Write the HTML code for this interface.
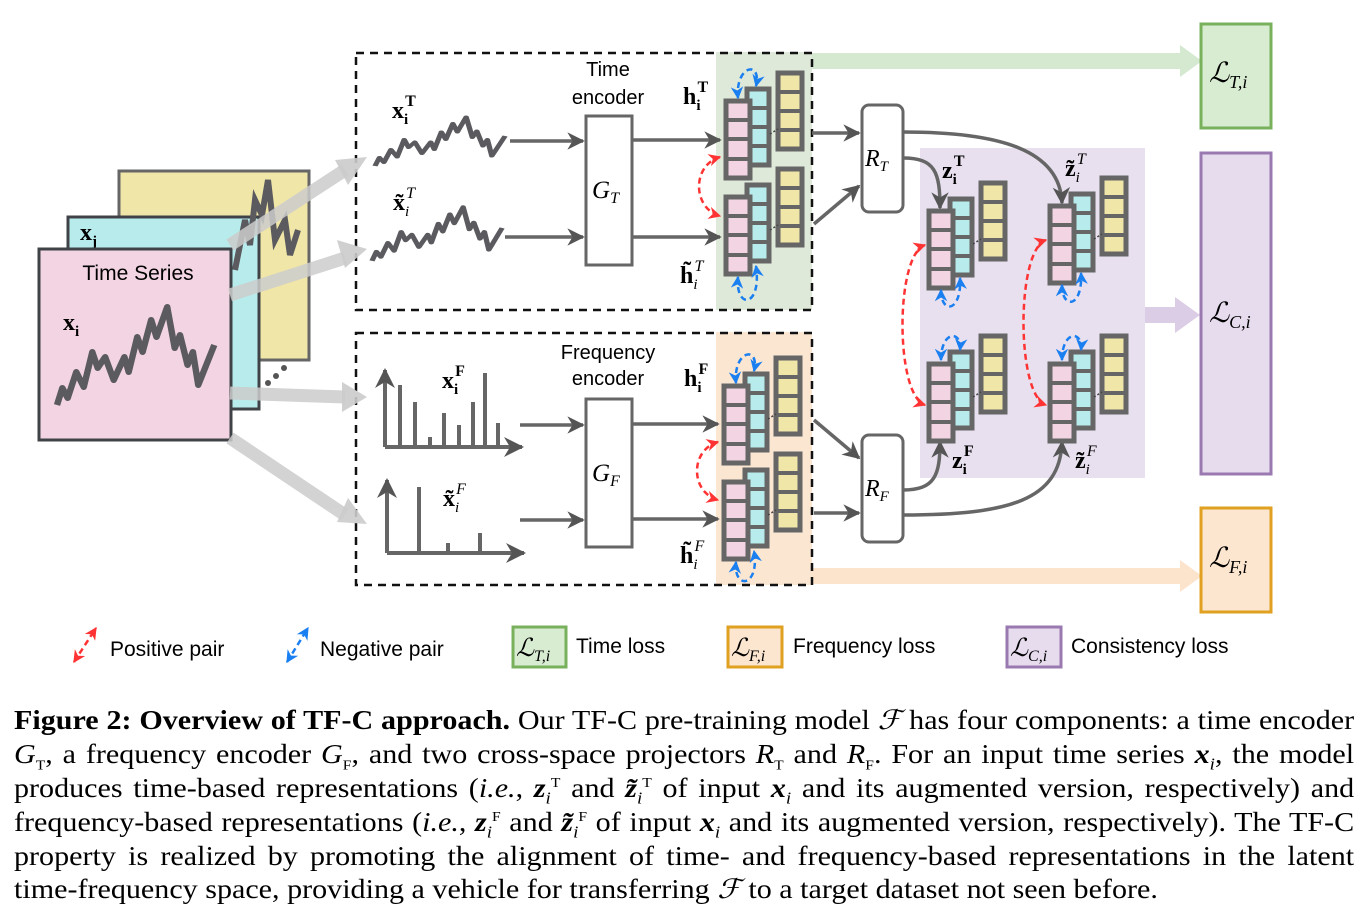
<!DOCTYPE html>
<html><head><meta charset="utf-8"><style>
body{margin:0;width:1371px;height:916px;background:#fff;overflow:hidden;position:relative}
svg{position:absolute;left:0;top:0}
.cap{position:absolute;left:14px;width:1203px;transform:scaleX(1.114);transform-origin:0 0;font-family:"Liberation Serif",serif;font-size:27px;line-height:34px;height:34px;text-align:justify;text-align-last:justify;white-space:nowrap;color:#000}
.cap sub,.cap sup{line-height:0;font-size:14px}
.cap sub.i{font-size:17px}
.s{font-family:"Liberation Sans",sans-serif}
.m{font-family:"Liberation Serif",serif}
</style></head><body>
<svg width="1371" height="916" viewBox="0 0 1371 916">
<defs>
<marker id="ag" viewBox="0 0 10 10" refX="9" refY="5" markerWidth="5" markerHeight="5" orient="auto"><path d="M0,0L10,5L0,10L3,5z" fill="#555"/></marker>
<marker id="ar" viewBox="0 0 10 10" refX="9" refY="5" markerWidth="5" markerHeight="5" orient="auto-start-reverse"><path d="M0,0L10,5L0,10L3,5z" fill="#f33"/></marker>
<marker id="ab" viewBox="0 0 10 10" refX="9" refY="5" markerWidth="5" markerHeight="5" orient="auto-start-reverse"><path d="M0,0L10,5L0,10L3,5z" fill="#1a7ff0"/></marker>
<g id="stk">
 <rect x="52" y="-28" width="24" height="76" fill="#f0e6a8" stroke="#666" stroke-width="5"/>
 <path d="M52,-9H76M52,10H76M52,29H76" stroke="#666" stroke-width="4"/>
 <rect x="21" y="-12" width="22" height="76" fill="#b8ecec" stroke="#666" stroke-width="5"/>
 <path d="M21,7H43M21,26H43M21,45H43" stroke="#666" stroke-width="4"/>
 <rect x="0" y="0" width="24" height="77" fill="#f2d4e2" stroke="#666" stroke-width="5"/>
 <path d="M0,19H24M0,38H24M0,58H24" stroke="#666" stroke-width="4"/>
 <path d="M44,33L52,28" stroke="#444" stroke-width="1.5" stroke-dasharray="2 2"/>
</g>
<path id="wv" d="M0,98L5,81L10,91L18,65L25,80L33,45L38,61L45,50L53,73L63,50L67,65L75,30L80,45L88,13L93,30L103,0L110,41L115,28L122,58L127,45L132,78L147,38" fill="none" stroke="#5a5a5f" stroke-width="6" stroke-linejoin="round"/>
</defs>
<rect x="716" y="52" width="96" height="258" fill="#dfe9d9"/>
<rect x="716" y="332" width="96" height="253" fill="#fbe6d2"/>
<rect x="920" y="148" width="225" height="330" fill="#e8e0ee"/>
<path d="M812,53H1180V45L1202,61L1180,77V69H812z" fill="#d5e8d0"/>
<path d="M812,568H1180V560L1202,576L1180,592V584H812z" fill="#fce3cc"/>
<path d="M1145,307H1175V297L1200,315L1175,333V323H1145z" fill="#dccde6"/>
<rect x="1201" y="24" width="70" height="104" fill="#d8ecd2" stroke="#78b05c" stroke-width="3"/>
<rect x="1201" y="153" width="70" height="321" fill="#e6dcee" stroke="#9a78b0" stroke-width="3"/>
<rect x="1201" y="508" width="70" height="104" fill="#fde6cf" stroke="#e0a020" stroke-width="3"/>
<g class="m" font-style="italic" font-size="28"><text x="1209" y="82">ℒ<tspan font-size="18" dy="6">T,i</tspan></text><text x="1209" y="322">ℒ<tspan font-size="18" dy="6">C,i</tspan></text><text x="1209" y="567">ℒ<tspan font-size="18" dy="6">F,i</tspan></text></g>
<rect x="356" y="53" width="456" height="257" fill="none" stroke="#111" stroke-width="2.5" stroke-dasharray="8 6"/>
<rect x="356" y="333" width="456" height="252" fill="none" stroke="#111" stroke-width="2.5" stroke-dasharray="8 6"/>
<rect x="119" y="171" width="190" height="189" fill="#f0e6a8" stroke="#666" stroke-width="3"/>
<rect x="68" y="217" width="191" height="192" fill="#b8ecec" stroke="#3f4347" stroke-width="3"/>
<text x="80" y="240" class="m" font-weight="bold" font-size="24">x<tspan font-size="15" dy="6">j</tspan></text>
<path d="M235,270 L245,220 L250,245 L255,200 L262,215 L268,180 L275,240 L285,220 L290,255 L298,230" fill="none" stroke="#5a5a5f" stroke-width="6"/>
<rect x="39" y="249" width="192" height="191" fill="#f2d4e2" stroke="#3f4347" stroke-width="3"/>
<text x="138" y="280" class="s" text-anchor="middle" font-size="21">Time Series</text>
<text x="63" y="330" class="m" font-weight="bold" font-size="24">x<tspan font-size="15" dy="6">i</tspan></text>
<use href="#wv" transform="translate(57,307) scale(1.07,1)"/>
<circle cx="268" cy="383" r="3" fill="#555"/><circle cx="276" cy="376" r="3" fill="#555"/><circle cx="284" cy="368" r="3" fill="#555"/>
<g stroke="#ccc" stroke-width="13" opacity="0.85" fill="none"><path d="M230,245L345,170"/><path d="M230,295L345,258"/><path d="M230,393L345,397"/><path d="M230,438L345,515"/></g>
<g fill="#ccc" opacity="0.9"><path d="M367,157L335,160L348,185z"/><path d="M367,249L337,240L345,268z"/><path d="M367,397L342,382L342,412z"/><path d="M367,524L348,498L337,522z"/></g>
<use href="#wv" transform="translate(375,117) scale(0.885,0.5)"/>
<use href="#wv" transform="translate(372,207) scale(0.885,0.55)"/>
<g class="m" font-size="24">
<text x="392" y="118" font-weight="bold">x<tspan font-size="15" dy="6">i</tspan><tspan font-size="16" dx="-3" dy="-18">T</tspan></text>
<text x="393" y="210" font-weight="bold">x̃<tspan font-size="15" dy="6" font-style="italic" font-weight="normal">i</tspan><tspan font-size="16" dx="-3" dy="-18" font-style="italic" font-weight="normal">T</tspan></text>
<text x="442" y="388" font-weight="bold">x<tspan font-size="15" dy="6">i</tspan><tspan font-size="16" dx="-3" dy="-18">F</tspan></text>
<text x="443" y="506" font-weight="bold">x̃<tspan font-size="15" dy="6" font-style="italic" font-weight="normal">i</tspan><tspan font-size="16" dx="-3" dy="-18" font-style="italic" font-weight="normal">F</tspan></text></g>
<g stroke="#666" stroke-width="4" fill="none">
<path d="M385,447V370" marker-end="url(#ag)"/><path d="M385,447H522" marker-end="url(#ag)"/>
<path d="M400,447V385M415,447V402M430,447V437M444,447V413M459,447V425M473,447V402M485,447V373M498,447V423"/>
<path d="M387,553V480" marker-end="url(#ag)"/><path d="M387,553H524" marker-end="url(#ag)"/>
<path d="M419,553V487M448,553V543M480,553V533"/>
</g>
<text x="608" y="76" class="s" text-anchor="middle" font-size="20">Time</text>
<text x="608" y="104" class="s" text-anchor="middle" font-size="20">encoder</text>
<text x="608" y="359" class="s" text-anchor="middle" font-size="20">Frequency</text>
<text x="608" y="385" class="s" text-anchor="middle" font-size="20">encoder</text>
<rect x="586" y="116" width="46" height="149" fill="#fff" stroke="#666" stroke-width="3"/>
<rect x="586" y="399" width="46" height="148" fill="#fff" stroke="#666" stroke-width="3"/>
<text x="592" y="198" class="m" font-style="italic" font-size="25">G<tspan font-size="16" dy="5">T</tspan></text>
<text x="592" y="481" class="m" font-style="italic" font-size="25">G<tspan font-size="16" dy="5">F</tspan></text>
<rect x="862" y="105" width="41" height="107" rx="7" fill="#fff" stroke="#666" stroke-width="3"/>
<rect x="862" y="435" width="41" height="107" rx="7" fill="#fff" stroke="#666" stroke-width="3"/>
<text x="865" y="166" class="m" font-style="italic" font-size="24">R<tspan font-size="15" dy="5">T</tspan></text>
<text x="865" y="496" class="m" font-style="italic" font-size="24">R<tspan font-size="15" dy="5">F</tspan></text>
<g stroke="#666" stroke-width="3.5" fill="none" marker-end="url(#ag)">
<path d="M510,141H583"/><path d="M505,237H583"/><path d="M520,425H583"/><path d="M520,520H583"/>
<path d="M633,140H720"/><path d="M633,237H720"/><path d="M633,424H718"/><path d="M633,519H718"/>
<path d="M812,133H859"/><path d="M814,224L859,186"/><path d="M814,420L859,458"/><path d="M814,513H859"/>
<path d="M903,158C935,158 940,172 940,208"/><path d="M903,132C1000,132 1060,150 1062,203"/>
<path d="M903,490C935,490 940,475 940,442"/><path d="M903,515C1010,515 1060,500 1062,442"/>
</g>
<use href="#stk" x="726" y="101"/><use href="#stk" x="726" y="197"/>
<use href="#stk" x="724" y="386"/><use href="#stk" x="724" y="482"/>
<use href="#stk" x="929" y="211"/><use href="#stk" x="1050" y="206"/>
<use href="#stk" x="929" y="364"/><use href="#stk" x="1050" y="364"/>
<g class="m" font-size="24">
<text x="683" y="104" font-weight="bold">h<tspan font-size="15" dy="6">i</tspan><tspan font-size="16" dx="-3" dy="-18">T</tspan></text>
<text x="680" y="283" font-weight="bold">h̃<tspan font-size="15" dy="6" font-style="italic" font-weight="normal">i</tspan><tspan font-size="16" dx="-3" dy="-18" font-style="italic" font-weight="normal">T</tspan></text>
<text x="684" y="386" font-weight="bold">h<tspan font-size="15" dy="6">i</tspan><tspan font-size="16" dx="-3" dy="-18">F</tspan></text>
<text x="680" y="563" font-weight="bold">h̃<tspan font-size="15" dy="6" font-style="italic" font-weight="normal">i</tspan><tspan font-size="16" dx="-3" dy="-18" font-style="italic" font-weight="normal">F</tspan></text>
<text x="942" y="178" font-weight="bold">z<tspan font-size="15" dy="6">i</tspan><tspan font-size="16" dx="-3" dy="-18">T</tspan></text>
<text x="1065" y="176" font-weight="bold">z̃<tspan font-size="15" dy="6" font-style="italic" font-weight="normal">i</tspan><tspan font-size="16" dx="-3" dy="-18" font-style="italic" font-weight="normal">T</tspan></text>
<text x="952" y="468" font-weight="bold">z<tspan font-size="15" dy="6">i</tspan><tspan font-size="16" dx="-3" dy="-18">F</tspan></text>
<text x="1075" y="468" font-weight="bold">z̃<tspan font-size="15" dy="6" font-style="italic" font-weight="normal">i</tspan><tspan font-size="16" dx="-3" dy="-18" font-style="italic" font-weight="normal">F</tspan></text>
</g>
<g fill="none" stroke-width="2.5" stroke-dasharray="6 4">
<g stroke="#f33">
<path d="M720,157C692,165 692,208 720,216" marker-start="url(#ar)" marker-end="url(#ar)"/>
<path d="M718,442C690,450 690,492 718,500" marker-start="url(#ar)" marker-end="url(#ar)"/>
<path d="M925,245C895,255 895,395 925,405" marker-start="url(#ar)" marker-end="url(#ar)"/>
<path d="M1046,240C1016,250 1016,395 1046,405" marker-start="url(#ar)" marker-end="url(#ar)"/>
</g>
<g stroke="#1a7ff0">
<path d="M738,98C735,65 762,60 756,86" marker-start="url(#ab)" marker-end="url(#ab)"/>
<path d="M738,277C735,310 762,308 756,266" marker-start="url(#ab)" marker-end="url(#ab)"/>
<path d="M736,383C733,350 760,345 754,371" marker-start="url(#ab)" marker-end="url(#ab)"/>
<path d="M736,562C733,590 760,588 754,551" marker-start="url(#ab)" marker-end="url(#ab)"/>
<path d="M941,290C941,315 962,312 960,278" marker-start="url(#ab)" marker-end="url(#ab)"/>
<path d="M941,360C941,330 962,330 960,350" marker-start="url(#ab)" marker-end="url(#ab)"/>
<path d="M1062,285C1062,310 1083,308 1081,273" marker-start="url(#ab)" marker-end="url(#ab)"/>
<path d="M1062,360C1062,330 1083,330 1081,350" marker-start="url(#ab)" marker-end="url(#ab)"/>
<path d="M74,662L96,628" stroke="#f33" marker-start="url(#ar)" marker-end="url(#ar)"/>
<path d="M287,662L308,628" marker-start="url(#ab)" marker-end="url(#ab)"/>
</g></g>
<g class="s" font-size="21">
<text x="110" y="656">Positive pair</text><text x="320" y="656">Negative pair</text>
<text x="576" y="653">Time loss</text><text x="793" y="653">Frequency loss</text><text x="1071" y="653">Consistency loss</text></g>
<rect x="513" y="627" width="53" height="40" fill="#d8ecd2" stroke="#78b05c" stroke-width="3"/>
<rect x="728" y="627" width="54" height="40" fill="#fde6cf" stroke="#e0a020" stroke-width="3"/>
<rect x="1007" y="627" width="54" height="40" fill="#e6dcee" stroke="#9a78b0" stroke-width="3"/>
<g class="m" font-style="italic" font-size="25"><text x="516" y="656">ℒ<tspan font-size="16" dy="5">T,i</tspan></text><text x="731" y="656">ℒ<tspan font-size="16" dy="5">F,i</tspan></text><text x="1010" y="656">ℒ<tspan font-size="16" dy="5">C,i</tspan></text></g>
</svg>
<div class="cap" style="top:703px"><b>Figure 2: Overview of TF-C approach.</b> Our TF-C pre-training model <i>ℱ</i> has four components: a time encoder</div>
<div class="cap" style="top:737px"><i>G</i><sub>T</sub>, a frequency encoder <i>G</i><sub>F</sub>, and two cross-space projectors <i>R</i><sub>T</sub> and <i>R</i><sub>F</sub>. For an input time series <b><i>x</i></b><sub class="i"><i>i</i></sub>, the model</div>
<div class="cap" style="top:771px">produces time-based representations (<i>i.e.</i>, <b><i>z</i></b><sub class="i"><i>i</i></sub><sup>T</sup> and <b><i>z̃</i></b><sub class="i"><i>i</i></sub><sup>T</sup> of input <b><i>x</i></b><sub class="i"><i>i</i></sub> and its augmented version, respectively) and</div>
<div class="cap" style="top:805px">frequency-based representations (<i>i.e.</i>, <b><i>z</i></b><sub class="i"><i>i</i></sub><sup>F</sup> and <b><i>z̃</i></b><sub class="i"><i>i</i></sub><sup>F</sup> of input <b><i>x</i></b><sub class="i"><i>i</i></sub> and its augmented version, respectively). The TF-C</div>
<div class="cap" style="top:839px">property is realized by promoting the alignment of time- and frequency-based representations in the latent</div>
<div class="cap" style="top:872px;text-align-last:left">time-frequency space, providing a vehicle for transferring <i>ℱ</i> to a target dataset not seen before.</div>
</body></html>
